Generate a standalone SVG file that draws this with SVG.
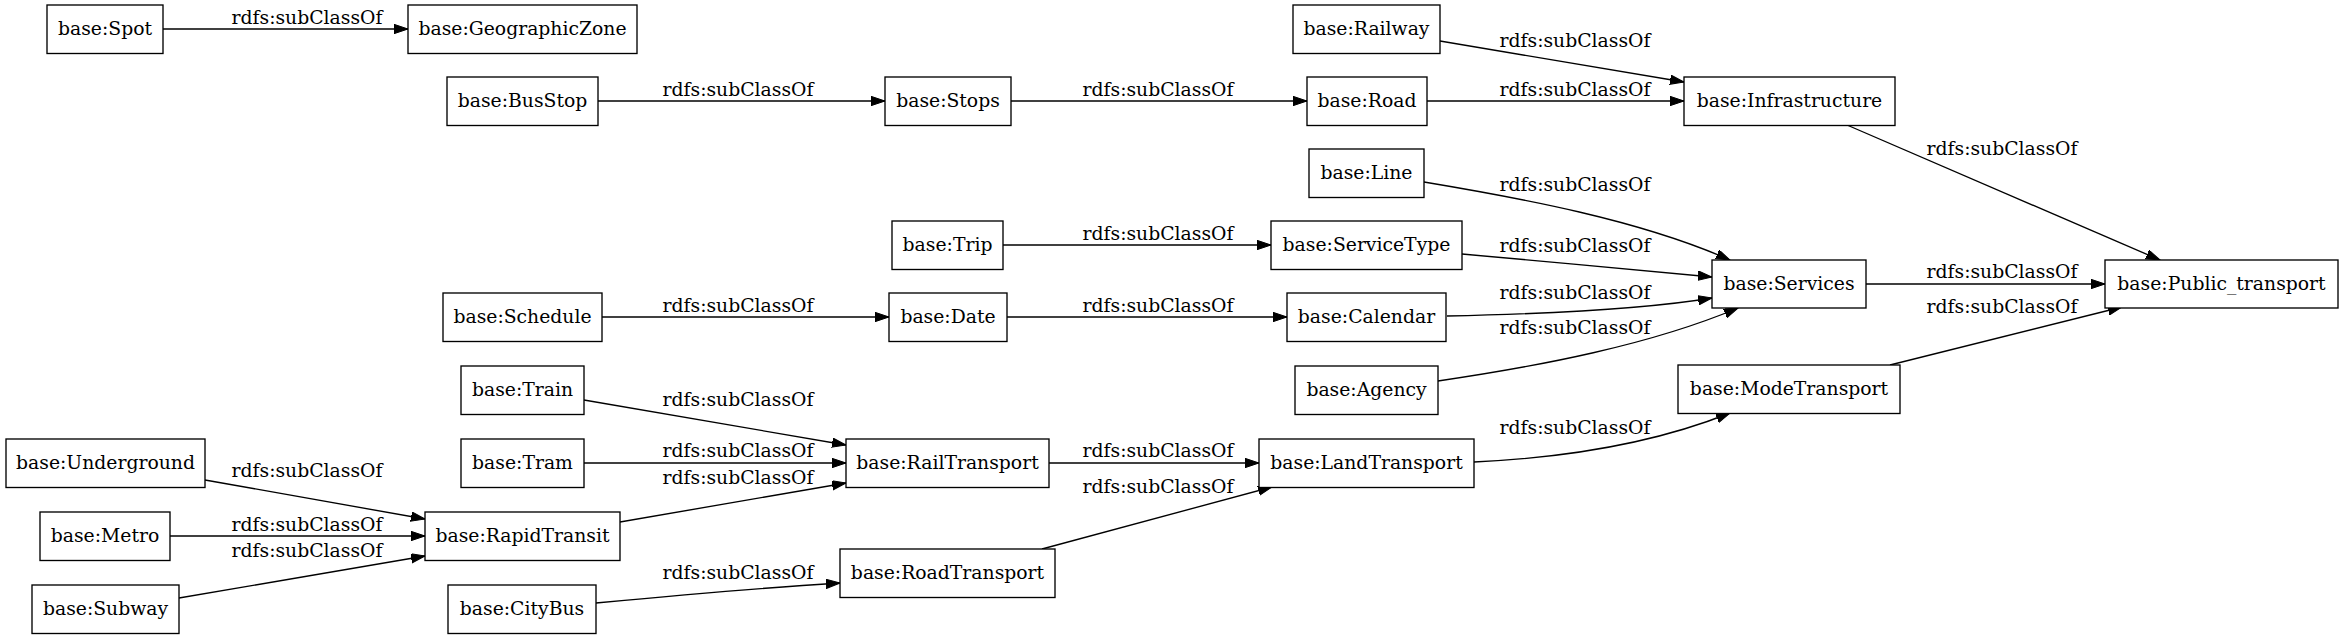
<svg xmlns="http://www.w3.org/2000/svg" width="2339" height="635" viewBox="0 0 2339 635">
<defs>
<marker id="arr" markerUnits="userSpaceOnUse" markerWidth="15" markerHeight="10" refX="14" refY="4.7" orient="auto">
<path d="M0,0 L14,4.7 L0,9.4 z" fill="#000" stroke="#000" stroke-width="1"/>
</marker>
<style>
.n rect{fill:#fff;stroke:#000;stroke-width:1.35}
.n text{font-family:"DejaVu Serif","Liberation Serif",serif;font-size:18.8px;text-anchor:middle;fill:#000}
.e path{fill:none;stroke:#000;stroke-width:1.35;marker-end:url(#arr)}
.e text{font-family:"DejaVu Serif","Liberation Serif",serif;font-size:18.8px;text-anchor:middle;fill:#000}
</style>
</defs>
<rect width="2339" height="635" fill="#fff"/>
<g id="edges" class="e">
<path d="M163,29 L408,29"/><text x="307" y="24">rdfs:subClassOf</text>
<path d="M1440,41 L1684,82"/><text x="1575" y="47">rdfs:subClassOf</text>
<path d="M598,101 L885,101"/><text x="738" y="96">rdfs:subClassOf</text>
<path d="M1011,101 L1307,101"/><text x="1158" y="96">rdfs:subClassOf</text>
<path d="M1427,101 L1684,101"/><text x="1575" y="96">rdfs:subClassOf</text>
<path d="M1847,125 L2160,260"/><text x="2002" y="155">rdfs:subClassOf</text>
<path d="M1424,182 C1520,198 1640,220 1730,260"/><text x="1575" y="191">rdfs:subClassOf</text>
<path d="M1003,245 L1271,245"/><text x="1158" y="240">rdfs:subClassOf</text>
<path d="M1462,254 C1540,261 1640,270 1712,277"/><text x="1575" y="252">rdfs:subClassOf</text>
<path d="M602,317 L889,317"/><text x="738" y="312">rdfs:subClassOf</text>
<path d="M1007,317 L1287,317"/><text x="1158" y="312">rdfs:subClassOf</text>
<path d="M1447,316 C1540,314 1640,310 1712,298"/><text x="1575" y="299">rdfs:subClassOf</text>
<path d="M1438,381 C1540,366 1650,345 1738,308"/><text x="1575" y="334">rdfs:subClassOf</text>
<path d="M1866,284 L2105,284"/><text x="2002" y="278">rdfs:subClassOf</text>
<path d="M1890,365 L2122,307"/><text x="2002" y="313">rdfs:subClassOf</text>
<path d="M584,400 L846,445"/><text x="738" y="406">rdfs:subClassOf</text>
<path d="M584,463 L846,463"/><text x="738" y="457">rdfs:subClassOf</text>
<path d="M620,522 L846,483"/><text x="738" y="484">rdfs:subClassOf</text>
<path d="M205,480 L425,519"/><text x="307" y="477">rdfs:subClassOf</text>
<path d="M170,536 L425,536"/><text x="307" y="531">rdfs:subClassOf</text>
<path d="M179,598 L425,556"/><text x="307" y="557">rdfs:subClassOf</text>
<path d="M1049,463 L1259,463"/><text x="1158" y="457">rdfs:subClassOf</text>
<path d="M1042,549 L1272,487"/><text x="1158" y="493">rdfs:subClassOf</text>
<path d="M1474,462 C1560,458 1650,445 1730,413"/><text x="1575" y="434">rdfs:subClassOf</text>
<path d="M596,603 C680,595 760,588 840,583"/><text x="738" y="579">rdfs:subClassOf</text>
</g>
<g id="Spot" class="n"><rect x="47" y="5" width="116" height="48.5"/><text x="105" y="35">base:Spot</text></g>
<g id="GeographicZone" class="n"><rect x="408" y="5" width="229" height="48.5"/><text x="522.5" y="35">base:GeographicZone</text></g>
<g id="Railway" class="n"><rect x="1293" y="5" width="147" height="48.5"/><text x="1366.5" y="35">base:Railway</text></g>
<g id="BusStop" class="n"><rect x="447" y="77" width="151" height="48.5"/><text x="522.5" y="107">base:BusStop</text></g>
<g id="Stops" class="n"><rect x="885" y="77" width="126" height="48.5"/><text x="948" y="107">base:Stops</text></g>
<g id="Road" class="n"><rect x="1307" y="77" width="120" height="48.5"/><text x="1367" y="107">base:Road</text></g>
<g id="Infrastructure" class="n"><rect x="1684" y="77" width="211" height="48.5"/><text x="1789.5" y="107">base:Infrastructure</text></g>
<g id="Line" class="n"><rect x="1309" y="149" width="115" height="48.5"/><text x="1366.5" y="179">base:Line</text></g>
<g id="Trip" class="n"><rect x="892" y="221" width="111" height="48.5"/><text x="947.5" y="251">base:Trip</text></g>
<g id="ServiceType" class="n"><rect x="1271" y="221" width="191" height="48.5"/><text x="1366.5" y="251">base:ServiceType</text></g>
<g id="Services" class="n"><rect x="1712" y="260" width="154" height="48"/><text x="1789" y="290">base:Services</text></g>
<g id="Public_transport" class="n"><rect x="2105" y="260" width="233" height="48"/><text x="2221.5" y="290">base:Public_transport</text></g>
<g id="Schedule" class="n"><rect x="443" y="293" width="159" height="48.5"/><text x="522.5" y="323">base:Schedule</text></g>
<g id="Date" class="n"><rect x="889" y="293" width="118" height="48.5"/><text x="948" y="323">base:Date</text></g>
<g id="Calendar" class="n"><rect x="1287" y="293" width="159" height="48.5"/><text x="1366.5" y="323">base:Calendar</text></g>
<g id="Train" class="n"><rect x="461" y="366" width="123" height="48.5"/><text x="522.5" y="396">base:Train</text></g>
<g id="Agency" class="n"><rect x="1295" y="366" width="143" height="48.5"/><text x="1366.5" y="396">base:Agency</text></g>
<g id="ModeTransport" class="n"><rect x="1678" y="365" width="222" height="48.5"/><text x="1789" y="395">base:ModeTransport</text></g>
<g id="Underground" class="n"><rect x="6" y="439" width="199" height="48.5"/><text x="105.5" y="469">base:Underground</text></g>
<g id="Tram" class="n"><rect x="461" y="439" width="123" height="48.5"/><text x="522.5" y="469">base:Tram</text></g>
<g id="RailTransport" class="n"><rect x="846" y="439" width="203" height="48.5"/><text x="947.5" y="469">base:RailTransport</text></g>
<g id="LandTransport" class="n"><rect x="1259" y="439" width="215" height="48.5"/><text x="1366.5" y="469">base:LandTransport</text></g>
<g id="Metro" class="n"><rect x="40" y="512" width="130" height="48.5"/><text x="105" y="542">base:Metro</text></g>
<g id="RapidTransit" class="n"><rect x="425" y="512" width="195" height="48.5"/><text x="522.5" y="542">base:RapidTransit</text></g>
<g id="RoadTransport" class="n"><rect x="840" y="549" width="215" height="48.5"/><text x="947.5" y="579">base:RoadTransport</text></g>
<g id="Subway" class="n"><rect x="32" y="585" width="147" height="48.5"/><text x="105.5" y="615">base:Subway</text></g>
<g id="CityBus" class="n"><rect x="448" y="585" width="148" height="48.5"/><text x="522" y="615">base:CityBus</text></g>
</svg>
